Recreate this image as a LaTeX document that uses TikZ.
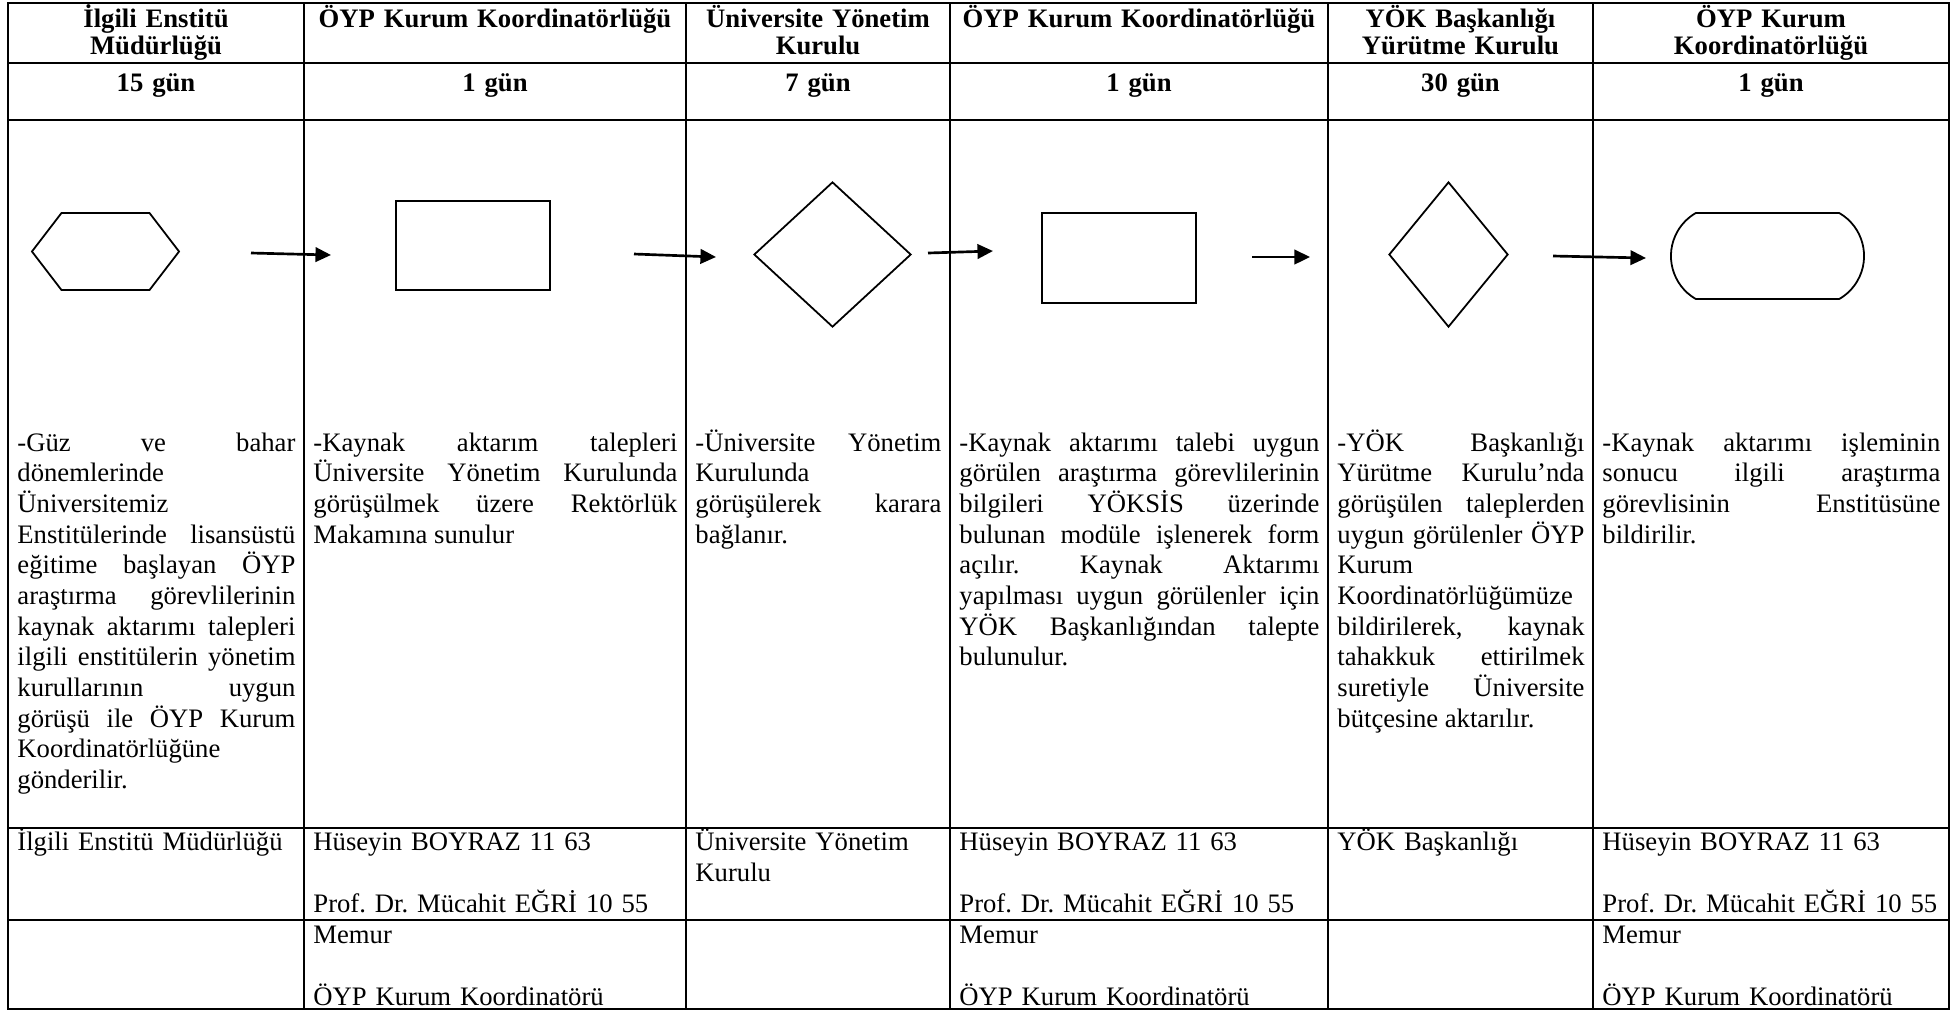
\documentclass[tikz,border=0pt]{standalone}
\usepackage{fontspec}
\setmainfont{Liberation Serif}
\usetikzlibrary{shapes.geometric, shapes.misc, shapes.symbols, arrows.meta}
\hyphenpenalty=10000
\tolerance=10000
\hbadness=10000
\frenchspacing

\begin{document}
\begin{tikzpicture}[x = 0.45pt, y = -0.45pt,
  tableline/.style = {line width = 0.7pt},
  head/.style = {anchor = base, inner sep = 0, align = center, font = \bfseries\fontsize{12pt}{12.2pt}\selectfont},
  body/.style = {anchor = base west, inner sep = 0, align = justify, font = \fontsize{12pt}{13.8pt}\selectfont},
  who/.style = {anchor = base west, inner sep = 0, align = left, font = \fontsize{12pt}{14pt}\selectfont},
  startshape/.style = {draw, signal, signal to = east and west, signal pointer angle = 105, line width = 0.8pt, inner sep = 0},
  procbox/.style = {draw, rectangle, line width = 0.8pt, inner sep = 0},
  decision/.style = {draw, diamond, line width = 0.8pt, inner sep = 0},
  endshape/.style = {draw, rounded rectangle, rounded rectangle arc length = 120, line width = 0.8pt, inner sep = 0},
  flow/.style = {line width = 1.2pt, -{Triangle[length = 7pt, width = 6.5pt]}}]
\useasboundingbox (0, 0) rectangle (1959, 1012);

\draw[tableline] (8, 3) rectangle (1949, 1009);
\foreach \y in {63, 120, 828, 920} \draw[tableline] (8, \y) -- (1949, \y);
\foreach \x in {304, 686, 950, 1328, 1593} \draw[tableline] (\x, 3) -- (\x, 1009);

\node (h1) [head, text width = 125.1pt] at (156, 27) {İlgili Enstitü\\Müdürlüğü};
\node (h2) [head, text width = 163.8pt] at (495, 27) {ÖYP Kurum Koordinatörlüğü};
\node (h3) [head, text width = 110.7pt] at (818, 27) {Üniversite Yönetim\\Kurulu};
\node (h4) [head, text width = 162pt] at (1139, 27) {ÖYP Kurum Koordinatörlüğü};
\node (h5) [head, text width = 111.2pt] at (1460.5, 27) {YÖK Başkanlığı\\Yürütme Kurulu};
\node (h6) [head, text width = 152.1pt] at (1771, 27) {ÖYP Kurum\\Koordinatörlüğü};

\node (d1) [head, text width = 125.1pt] at (156, 91) {15 gün};
\node (d2) [head, text width = 163.8pt] at (495, 91) {1 gün};
\node (d3) [head, text width = 110.7pt] at (818, 91) {7 gün};
\node (d4) [head, text width = 162pt] at (1139, 91) {1 gün};
\node (d5) [head, text width = 111.2pt] at (1460.5, 91) {30 gün};
\node (d6) [head, text width = 152.1pt] at (1771, 91) {1 gün};

\node (start) [startshape, minimum width = 66.2pt, minimum height = 34.7pt] at (105.5, 251.5) {};
\node (offer) [procbox, minimum width = 69.3pt, minimum height = 40pt] at (473, 245.5) {};
\node (board) [decision, minimum width = 70.7pt, minimum height = 65.3pt] at (832.5, 254.5) {};
\node (form) [procbox, minimum width = 69.3pt, minimum height = 40.5pt] at (1119, 258) {};
\node (yok) [decision, minimum width = 53.6pt, minimum height = 65.3pt] at (1448.5, 254.5) {};
\node (done) [endshape, minimum width = 86.9pt, minimum height = 38.7pt] at (1767.5, 256) {};

\coordinate (a1s) at (251, 253);
\coordinate (a1e) at (331, 255);
\coordinate (a2s) at (634, 254);
\coordinate (a2e) at (716, 257);
\coordinate (a3s) at (928, 253);
\coordinate (a3e) at (993, 251);
\coordinate (a4s) at (1252, 257);
\coordinate (a4e) at (1310, 257);
\coordinate (a5s) at (1553, 256);
\coordinate (a5e) at (1646, 258);
\draw[flow] (a1s) -- (a1e);
\draw[flow] (a2s) -- (a2e);
\draw[flow] (a3s) -- (a3e);
\draw[flow] (a4s) -- (a4e);
\draw[flow] (a5s) -- (a5e);

\node (t1) [body, text width = 125.1pt] at (17, 451) {-Güz ve bahar\linebreak dönemlerinde\linebreak Üniversitemiz\linebreak Enstitülerinde lisansüstü\linebreak eğitime başlayan ÖYP\linebreak araştırma görevlilerinin\linebreak kaynak aktarımı talepleri\linebreak ilgili enstitülerin yönetim\linebreak kurullarının uygun\linebreak görüşü ile ÖYP Kurum\linebreak Koordinatörlüğüne\linebreak gönderilir.};
\node (t2) [body, text width = 163.8pt] at (313, 451) {-Kaynak aktarım talepleri\linebreak Üniversite Yönetim Kurulunda\linebreak görüşülmek üzere Rektörlük\linebreak Makamına sunulur};
\node (t3) [body, text width = 110.7pt] at (695, 451) {-Üniversite Yönetim\linebreak Kurulunda\linebreak görüşülerek karara\linebreak bağlanır.};
\node (t4) [body, text width = 162pt] at (959, 451) {-Kaynak aktarımı talebi uygun\linebreak görülen araştırma görevlilerinin\linebreak bilgileri YÖKSİS üzerinde\linebreak bulunan modüle işlenerek form\linebreak açılır. Kaynak Aktarımı\linebreak yapılması uygun görülenler için\linebreak YÖK Başkanlığından talepte\linebreak bulunulur.};
\node (t5) [body, text width = 111.2pt] at (1337, 451) {-YÖK Başkanlığı\linebreak Yürütme Kurulu’nda\linebreak görüşülen taleplerden\linebreak uygun görülenler ÖYP\linebreak Kurum\linebreak Koordinatörlüğümüze\linebreak bildirilerek, kaynak\linebreak tahakkuk ettirilmek\linebreak suretiyle Üniversite\linebreak bütçesine aktarılır.};
\node (t6) [body, text width = 152.1pt] at (1602, 451) {-Kaynak aktarımı işleminin\linebreak sonucu ilgili araştırma\linebreak görevlisinin Enstitüsüne\linebreak bildirilir.};

\node (p1) [who, text width = 125.1pt] at (17, 850) {İlgili Enstitü Müdürlüğü};
\node (p2) [who, text width = 163.8pt] at (313, 850) {Hüseyin BOYRAZ 11 63\\[14pt]Prof. Dr. Mücahit EĞRİ 10 55};
\node (p3) [who, text width = 110.7pt] at (695, 850) {Üniversite Yönetim\\Kurulu};
\node (p4) [who, text width = 162pt] at (959, 850) {Hüseyin BOYRAZ 11 63\\[14pt]Prof. Dr. Mücahit EĞRİ 10 55};
\node (p5) [who, text width = 111.2pt] at (1337, 850) {YÖK Başkanlığı};
\node (p6) [who, text width = 152.1pt] at (1602, 850) {Hüseyin BOYRAZ 11 63\\[14pt]Prof. Dr. Mücahit EĞRİ 10 55};

\node (m2) [who, text width = 163.8pt] at (313, 943) {Memur\\[14pt]ÖYP Kurum Koordinatörü};
\node (m4) [who, text width = 162pt] at (959, 943) {Memur\\[14pt]ÖYP Kurum Koordinatörü};
\node (m6) [who, text width = 152.1pt] at (1602, 943) {Memur\\[14pt]ÖYP Kurum Koordinatörü};
\end{tikzpicture}
\end{document}
